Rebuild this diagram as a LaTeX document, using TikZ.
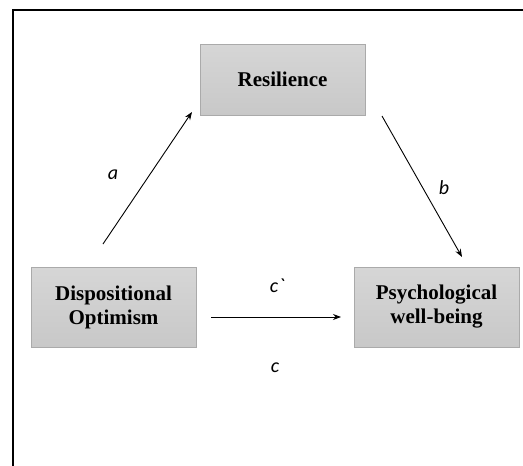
\documentclass[tikz,border=0pt]{standalone}
\usepackage{fontspec}
\setmainfont{Liberation Serif}
\newfontfamily\lblfont{Carlito}
\usetikzlibrary{arrows.meta}
\definecolor{boxtop}{RGB}{214,214,214}
\definecolor{boxbot}{RGB}{200,200,200}
\definecolor{boxline}{RGB}{170,170,170}
\tikzset{
  varbox/.style={draw=boxline, line width=1pt, top color=boxtop, bottom color=boxbot,
    minimum width=165pt, minimum height=80pt, align=center, inner sep=0pt,
    font=\fontsize{21}{24}\selectfont\bfseries},
  path/.style={line width=0.9pt, -{Stealth[length=8pt,width=6pt]}},
  lbl/.style={font=\fontsize{20}{20}\selectfont\lblfont\itshape}
}
\begin{document}
\begin{tikzpicture}[x=1pt,y=-1pt]
\useasboundingbox (0,0) rectangle (523,466);
\draw[line width=2pt] (12.5,480) -- (12.5,9.5) -- (540,9.5);
\node[varbox, minimum height=71pt] (res) at (282.5,79.5) {Resilience};
\node[varbox] (opt) at (113.5,307) {Dispositional\\Optimism};
\node[varbox] (pwb) at (436.5,307) {Psychological\\well-being};
\coordinate (aS) at (103,244);
\coordinate (aE) at (192,112);
\coordinate (bS) at (382,116);
\coordinate (bE) at (462,257);
\coordinate (cS) at (211,317);
\coordinate (cE) at (341,317);
\draw[path] (aS) -- (aE);
\draw[path] (bS) -- (bE);
\draw[path] (cS) -- (cE);
\node[lbl] (la) at (113,175) {a};
\node[lbl] (lb) at (444,188) {b};
\node[lbl] (lcp) at (277,286) {c`};
\node[lbl] (lc) at (275,368) {c};
\end{tikzpicture}
\end{document}
